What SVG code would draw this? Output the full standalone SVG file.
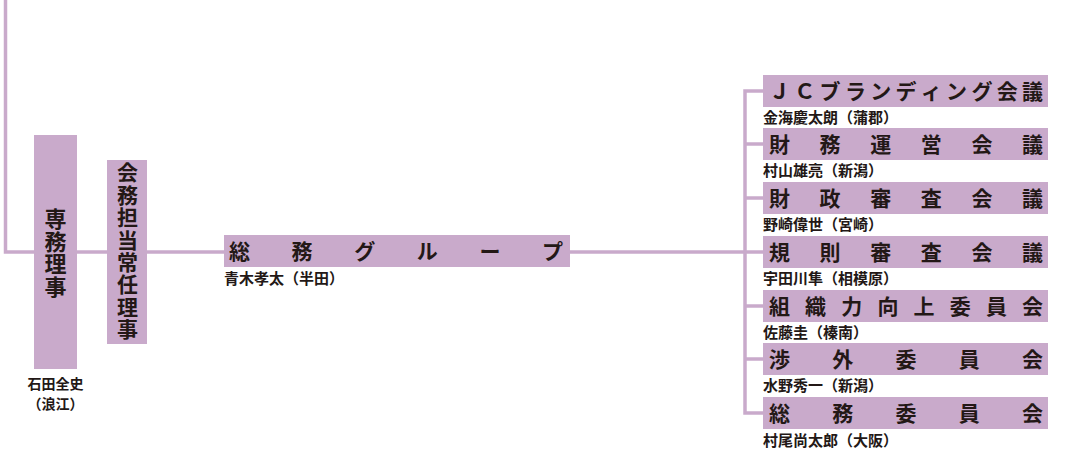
<svg xmlns="http://www.w3.org/2000/svg" width="1066" height="461" viewBox="0 0 1066 461">
<style>
.box{fill:#c9aacb}
.ln{fill:none;stroke:#c9aacb;stroke-width:3.5}
.t{font-family:"Noto Sans CJK JP","Noto Sans CJK SC",sans-serif;font-weight:bold;fill:#231816}
.big{font-size:21px}
.v{writing-mode:vertical-rl;text-orientation:upright}
.nm{font-size:15px}
.nm2{font-size:14px;text-anchor:middle}
</style>
<rect width="1066" height="461" fill="#ffffff"/>
<g id="connectors">
<path class="ln" d="M5.5,0 V252 H745"/>
<path class="ln" d="M763,91 H745 V413 H763"/>
<path class="ln" d="M745,144 H763 M745,198 H763 M745,252 H763 M745,306 H763 M745,359 H763"/>
</g>
<g id="senmu">
<rect class="box" x="34" y="135" width="43" height="234"/>
<text class="t v" x="55.5" y="208" font-size="22" letter-spacing="0.5">専務理事</text>
<text class="t nm2" x="55.5" y="388.5">石田全史</text>
<text class="t nm2" x="55.5" y="409">（浪江）</text>
</g>
<g id="kaimu">
<rect class="box" x="107" y="160" width="40" height="184"/>
<text class="t v" x="127.5" y="162" font-size="21" letter-spacing="1.4">会務担当常任理事</text>
</g>
<g id="somu-group">
<rect class="box" x="224" y="235" width="346" height="32"/>
<text class="t big" y="259" x="229 291.6 354.2 416.8 479.4 542">総務グループ</text>
<text class="t nm" x="224" y="284">青木孝太（半田）</text>
</g>
<g id="jc">
<rect class="box" x="763" y="75" width="285" height="32"/>
<text class="t big" y="99" x="769 794.3 819.6 844.9 870.2 895.5 920.8 946.1 971.4 996.7 1022">ＪＣブランディング会議</text>
<text class="t nm" x="763" y="123">金海慶太朗（蒲郡）</text>
</g>
<g id="zaimu-unei">
<rect class="box" x="763" y="128" width="285" height="32"/>
<text class="t big" y="152" x="769 819.6 870.2 920.8 971.4 1022">財務運営会議</text>
<text class="t nm" x="763" y="176">村山雄亮（新潟）</text>
</g>
<g id="zaisei">
<rect class="box" x="763" y="182" width="285" height="32"/>
<text class="t big" y="206" x="769 819.6 870.2 920.8 971.4 1022">財政審査会議</text>
<text class="t nm" x="763" y="230">野崎偉世（宮崎）</text>
</g>
<g id="kisoku">
<rect class="box" x="763" y="236" width="285" height="32"/>
<text class="t big" y="260" x="769 819.6 870.2 920.8 971.4 1022">規則審査会議</text>
<text class="t nm" x="763" y="284">宇田川隼（相模原）</text>
</g>
<g id="soshiki">
<rect class="box" x="763" y="290" width="285" height="32"/>
<text class="t big" y="314" x="769 805.1 841.3 877.4 913.6 949.7 985.9 1022">組織力向上委員会</text>
<text class="t nm" x="763" y="338">佐藤圭（榛南）</text>
</g>
<g id="shogai">
<rect class="box" x="763" y="343" width="285" height="32"/>
<text class="t big" y="367" x="769 832.3 895.5 958.8 1022">渉外委員会</text>
<text class="t nm" x="763" y="391">水野秀一（新潟）</text>
</g>
<g id="somu-iinkai">
<rect class="box" x="763" y="397" width="285" height="32"/>
<text class="t big" y="421" x="769 832.3 895.5 958.8 1022">総務委員会</text>
<text class="t nm" x="763" y="446">村尾尚太郎（大阪）</text>
</g>
</svg>
